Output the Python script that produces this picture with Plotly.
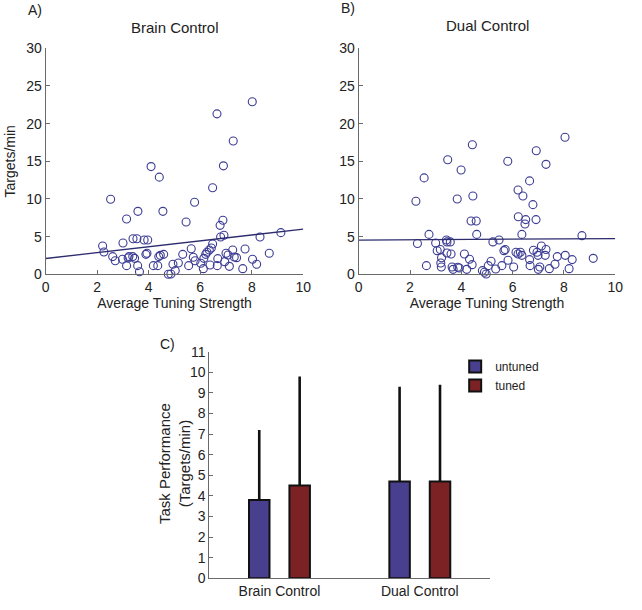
import plotly.graph_objects as go

# ---- Panel A: Brain Control ----
brain_x = [8.02, 6.65, 7.28, 4.09, 6.90, 4.41, 6.48, 2.52, 5.78, 3.58, 4.55, 3.14, 5.45, 6.88, 6.77,
           6.79, 6.92, 8.32, 9.13, 3.00, 3.39, 3.54, 3.82, 3.96, 2.21, 2.26, 2.60, 2.70, 2.98, 3.20,
           3.23, 3.14, 3.38, 3.45, 3.57, 3.64, 3.89, 3.93, 4.18, 4.35, 4.39, 4.45, 4.58, 4.76, 4.86,
           4.94, 5.03, 5.15, 5.32, 5.55, 5.65, 5.73, 5.80, 6.02, 6.12, 6.14, 6.21, 6.26, 6.35, 6.43,
           6.48, 6.38, 6.66, 6.68, 6.95, 7.00, 7.08, 7.13, 7.26, 7.32, 7.41, 7.65, 7.74, 8.03, 8.19, 8.68]
brain_y = [22.9, 21.3, 17.7, 14.3, 14.4, 12.9, 11.5, 9.96, 9.56, 8.36, 8.36, 7.35, 6.95, 7.17, 6.50,
           4.96, 5.18, 4.96, 5.53, 4.16, 4.73, 4.73, 4.56, 4.56, 3.76, 2.96, 2.35, 1.81, 1.99, 2.17,
           2.35, 1.15, 2.35, 2.12, 1.15, 0.35, 2.65, 2.79, 1.15, 1.15, 2.35, 2.52, 2.65, 0.00, 0.04,
           1.33, 0.49, 1.50, 2.65, 1.15, 3.40, 2.26, 1.81, 1.46, 0.75, 2.12, 2.65, 2.92, 3.23, 3.50,
           4.03, 1.24, 1.15, 2.08, 1.68, 2.79, 2.57, 1.06, 3.23, 2.30, 2.21, 0.75, 3.36, 1.99, 1.33, 2.79]
brain_fit_x = [0, 10]
brain_fit_y = [2.1, 6.0]

# ---- Panel B: Dual Control ----
dual_x = [8.04, 4.43, 6.92, 3.47, 5.81, 7.30, 3.99, 2.55, 6.66, 6.21, 6.40, 4.45, 3.84, 2.23, 6.79,
          6.22, 6.51, 6.91, 6.48, 4.38, 4.58, 2.74, 4.60, 6.36, 8.70, 2.29, 3.00, 3.42, 3.44, 3.57,
          5.23, 5.47, 3.06, 3.18, 3.23, 3.20, 3.22, 3.44, 3.60, 3.64, 3.68, 3.86, 3.92, 4.12, 4.21,
          4.32, 4.42, 2.64, 4.82, 4.90, 4.97, 5.05, 5.16, 5.34, 5.58, 5.66, 5.71, 5.82, 6.04, 6.13,
          6.21, 6.30, 6.36, 6.66, 6.68, 6.81, 6.95, 6.99, 7.00, 7.06, 7.12, 7.27, 7.30, 7.43, 7.65,
          7.74, 8.05, 8.20, 8.32, 9.14]
dual_y = [18.2, 17.2, 16.4, 15.2, 15.0, 14.6, 13.85, 12.8, 12.4, 11.2, 10.4, 10.4, 10.0, 9.7, 9.25,
          7.65, 7.26, 7.26, 6.68, 7.08, 7.08, 5.30, 5.30, 5.30, 5.13, 4.10, 4.16, 4.56, 4.30, 4.30,
          4.30, 4.56, 3.14, 3.30, 2.20, 1.50, 0.97, 2.83, 2.70, 0.97, 0.66, 0.93, 0.84, 2.70, 0.66,
          2.00, 1.28, 1.15, 0.49, 0.27, 0.04, 1.15, 1.73, 0.71, 1.15, 3.14, 3.30, 1.86, 0.97, 2.92,
          2.70, 2.92, 2.52, 1.95, 1.15, 3.19, 2.92, 2.52, 0.66, 0.97, 3.76, 2.52, 3.30, 0.75, 1.33,
          2.35, 2.52, 0.75, 1.95, 2.12]
dual_fit_x = [0, 10]
dual_fit_y = [4.55, 4.75]

# ---- Panel C: Task performance ----
conditions = ["Brain Control", "Dual Control"]
untuned_mean = [3.8, 4.7]
untuned_err = [3.4, 4.6]
tuned_mean = [4.5, 4.7]
tuned_err = [5.3, 4.7]

FONT = "Arial, Liberation Sans, sans-serif"
PT = "#3c3c94"
LINE = "#2c2c6e"
AX = "#6a6a6a"
TXT = "#222222"

fig = go.Figure()

fig.add_trace(go.Scatter(x=brain_x, y=brain_y, mode="markers", xaxis="x", yaxis="y",
                         marker=dict(symbol="circle-open", size=8, color=PT, line=dict(width=1.1)),
                         cliponaxis=False, showlegend=False))
fig.add_trace(go.Scatter(x=brain_fit_x, y=brain_fit_y, mode="lines", xaxis="x", yaxis="y",
                         line=dict(color=LINE, width=1.3), showlegend=False))
fig.add_trace(go.Scatter(x=dual_x, y=dual_y, mode="markers", xaxis="x2", yaxis="y2",
                         marker=dict(symbol="circle-open", size=8, color=PT, line=dict(width=1.1)),
                         cliponaxis=False, showlegend=False))
fig.add_trace(go.Scatter(x=dual_fit_x, y=dual_fit_y, mode="lines", xaxis="x2", yaxis="y2",
                         line=dict(color=LINE, width=1.3), showlegend=False))

fig.add_trace(go.Bar(x=conditions, y=untuned_mean, name="untuned", xaxis="x3", yaxis="y3",
                     marker=dict(color="#483f8e", line=dict(color="#111111", width=2)),
                     error_y=dict(type="data", symmetric=False, array=untuned_err,
                                  arrayminus=[0, 0], width=0, thickness=2.6, color="#111111")))
fig.add_trace(go.Bar(x=conditions, y=tuned_mean, name="tuned", xaxis="x3", yaxis="y3",
                     marker=dict(color="#7d2224", line=dict(color="#111111", width=2)),
                     error_y=dict(type="data", symmetric=False, array=tuned_err,
                                  arrayminus=[0, 0], width=0, thickness=2.6, color="#111111")))

tickfont = dict(family=FONT, size=14, color=TXT)
common_axis = dict(showline=True, linecolor=AX, linewidth=1, ticks="inside", ticklen=4,
                   tickcolor=AX, showgrid=False, zeroline=False, tickfont=tickfont,
                   automargin=False)

fig.update_layout(
    width=642, height=610,
    margin=dict(l=0, r=0, t=0, b=0),
    paper_bgcolor="white", plot_bgcolor="white",
    font=dict(family=FONT, size=14, color=TXT),
    barmode="group", bargap=0.424, bargroupgap=0.493,
    xaxis=dict(domain=[0.0712, 0.4724], range=[0, 10], dtick=2, anchor="y",
               title=dict(text="Average Tuning Strength", standoff=2, font=dict(size=14)), **common_axis),
    yaxis=dict(domain=[0.5503, 0.9208], range=[0, 30], dtick=5, anchor="x",
               title=dict(text="Targets/min", standoff=7, font=dict(size=14)), **common_axis),
    xaxis2=dict(domain=[0.5587, 0.9584], range=[0, 10], dtick=2, anchor="y2",
                title=dict(text="Average Tuning Strength", standoff=2, font=dict(size=14)), **common_axis),
    yaxis2=dict(domain=[0.5503, 0.9208], range=[0, 30], dtick=5, anchor="x2", **common_axis),
    xaxis3=dict(domain=[0.326, 0.7632], range=[-0.5, 1.5], anchor="y3", type="category",
                showline=True, linecolor=AX, linewidth=1, ticks="", showgrid=False,
                zeroline=False, tickfont=tickfont, automargin=False),
    yaxis3=dict(domain=[0.0520, 0.4234], range=[0, 11], dtick=1, anchor="x3", **common_axis),
    legend=dict(x=0.709, y=1 - 352 / 610, xanchor="left", yanchor="top",
                font=dict(family=FONT, size=12, color=TXT), bgcolor="rgba(0,0,0,0)",
                tracegroupgap=0, itemwidth=30),
    annotations=[
        dict(text="A)", x=26 / 642, y=1 - 10 / 610, xref="paper", yref="paper",
             xanchor="left", yanchor="middle", showarrow=False, font=dict(size=14)),
        dict(text="B)", x=339 / 642, y=1 - 8 / 610, xref="paper", yref="paper",
             xanchor="left", yanchor="middle", showarrow=False, font=dict(size=14)),
        dict(text="C)", x=158 / 642, y=1 - 344 / 610, xref="paper", yref="paper",
             xanchor="left", yanchor="middle", showarrow=False, font=dict(size=14)),
        dict(text="Brain Control", x=174.5 / 642, y=1 - 27 / 610, xref="paper", yref="paper",
             xanchor="center", yanchor="middle", showarrow=False, font=dict(size=15)),
        dict(text="Dual Control", x=487 / 642, y=1 - 25 / 610, xref="paper", yref="paper",
             xanchor="center", yanchor="middle", showarrow=False, font=dict(size=15)),
        dict(text="Task Performance<br>(Targets/min)", x=174 / 642, y=1 - 463 / 610,
             xref="paper", yref="paper", xanchor="center", yanchor="middle", textangle=-90,
             showarrow=False, font=dict(size=15)),
    ],
)

fig.write_html("out.html", config={"displayModeBar": False},
               post_script="document.body.style.margin='0';document.body.style.padding='0';")
